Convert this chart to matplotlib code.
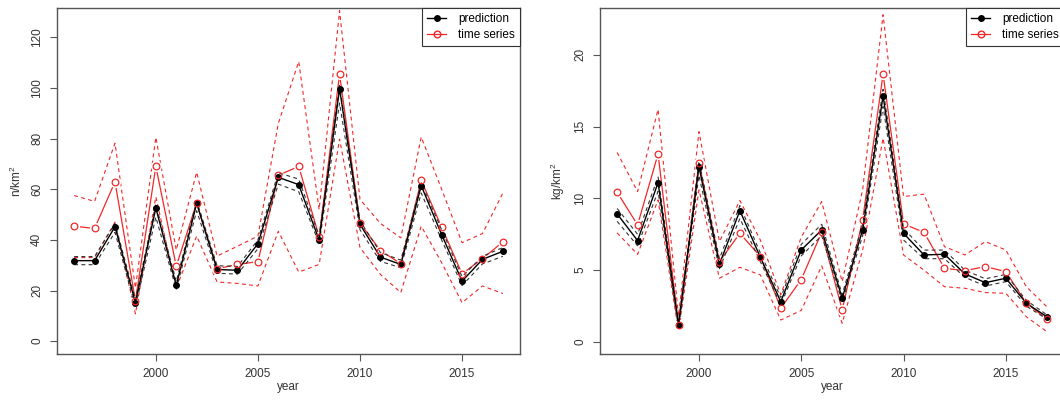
import numpy as np
import matplotlib
matplotlib.use("Agg")
import matplotlib.pyplot as plt
from matplotlib.lines import Line2D

plt.rcParams['font.family'] = ['Liberation Sans', 'DejaVu Sans']
plt.rcParams['mathtext.fontset'] = 'custom'
plt.rcParams['mathtext.rm'] = 'Liberation Sans'

# years
years = list(range(1996, 2018))

# left panel: abundance (n/km2)
pred_n = [31.8, 31.8, 45.2, 15.2, 52.6, 22.0, 54.4, 28.3, 28.0, 38.5, 64.7,
          61.8, 39.9, 99.7, 46.1, 33.2, 30.3, 61.4, 42.1, 23.7, 32.3, 35.5]
pred_n_lo = [30.2, 30.2, 43.0, 13.5, 49.0, 20.5, 51.5, 26.8, 26.5, 36.5, 62.0,
             59.0, 38.5, 94.0, 44.0, 31.5, 29.0, 58.5, 40.0, 22.0, 30.5, 33.5]
pred_n_hi = [33.4, 33.4, 46.5, 16.5, 54.0, 23.5, 55.5, 29.8, 29.5, 40.0, 66.5,
             64.0, 41.5, 101.0, 47.5, 35.0, 32.0, 62.5, 44.0, 25.5, 33.5, 37.0]
ts_n = [45.4, 44.5, 62.9, 16.0, 69.0, 29.6, 54.6, 28.6, 30.3, 31.4, 65.5,
        69.0, 41.2, 105.4, 46.6, 35.8, 30.6, 63.5, 45.0, 26.6, 32.6, 39.2]
ts_n_hi = [57.5, 55.2, 78.2, 21.0, 80.5, 36.0, 66.7, 33.6, 37.5, 41.5, 86.0,
           110.4, 52.0, 130.5, 56.0, 46.5, 40.8, 80.6, 60.0, 38.9, 42.5, 58.5]
ts_n_lo = [33.0, 33.0, 47.0, 10.8, 57.0, 21.0, 41.5, 23.4, 22.8, 21.8, 43.4,
           27.3, 30.3, 79.8, 37.0, 26.4, 19.2, 45.4, 31.0, 15.2, 21.8, 18.8]

# right panel: biomass (kg/km2)
pred_kg = [8.92, 7.06, 11.1, 1.18, 12.2, 5.42, 9.15, 5.9, 2.81, 6.41, 7.8,
           3.04, 7.8, 17.14, 7.57, 6.06, 6.11, 4.74, 4.13, 4.44, 2.7, 1.76]
pred_kg_lo = [8.4, 6.7, 10.5, 1.0, 11.6, 5.1, 8.6, 5.6, 2.6, 6.0, 7.4,
              2.8, 7.4, 16.4, 7.1, 5.8, 5.8, 4.5, 3.9, 4.2, 2.5, 1.6]
pred_kg_hi = [9.3, 7.5, 11.5, 1.4, 12.6, 5.8, 9.5, 6.2, 3.1, 6.8, 8.2,
              3.3, 8.2, 17.6, 7.9, 6.4, 6.4, 5.0, 4.4, 4.7, 2.9, 1.9]
ts_kg = [10.43, 8.15, 13.1, 1.2, 12.5, 5.6, 7.57, 5.95, 2.35, 4.35, 7.65,
         2.23, 8.5, 18.65, 8.22, 7.64, 5.13, 4.97, 5.25, 4.9, 2.7, 1.6]
ts_kg_hi = [13.2, 10.47, 16.2, 1.8, 14.65, 7.0, 9.85, 7.1, 3.3, 7.3, 9.78,
            4.2, 10.6, 22.8, 10.13, 10.3, 6.64, 6.06, 6.99, 6.41, 3.85, 2.46]
ts_kg_lo = [7.6, 6.1, 9.9, 0.72, 10.6, 4.44, 5.2, 4.67, 1.53, 2.2, 5.3,
            1.3, 6.4, 14.2, 6.06, 5.0, 3.85, 3.74, 3.44, 3.39, 1.76, 0.72]

RED = '#f02828'
BOX = '#555555'

fig = plt.figure(figsize=(10.6, 4.03), dpi=100)
ax1 = fig.add_axes([0.0538, 0.1216, 0.4368, 0.8586])
ax2 = fig.add_axes([0.566, 0.1216, 0.4377, 0.8586])


def panel(ax, pred, plo, phi, ts, tlo, thi, ylim, yticks, ylabel):
    dash = (3.5, 3)
    # time series confidence band
    ax.plot(years, thi, color=RED, lw=0.8, dashes=dash, zorder=1.5)
    ax.plot(years, tlo, color=RED, lw=0.8, dashes=dash, zorder=1.5)
    # time series line with gaps round the points
    ax.plot(years, ts, color=RED, lw=0.9, zorder=2)
    ax.plot(years, ts, 'o', color='white', ms=8, mew=0, zorder=2.5)
    # prediction band
    ax.plot(years, plo, color='#333333', lw=0.8, dashes=dash, zorder=3)
    ax.plot(years, phi, color='#333333', lw=0.8, dashes=dash, zorder=3)
    ax.plot(years, pred, color='black', lw=1.0, marker='o', ms=4, zorder=3.5)
    ax.plot(years, ts, 'o', mfc='none', mec=RED, ms=4.8, mew=0.9, zorder=4)

    ax.set_xlim(1995.16, 2017.84)
    ax.set_ylim(*ylim)
    ax.set_xticks([2000, 2005, 2010, 2015])
    ax.set_yticks(yticks)
    for s in ax.spines.values():
        s.set_color(BOX)
        s.set_linewidth(1.0)
    ax.tick_params(length=5, width=0.8, color=BOX, labelsize=8.5,
                   labelcolor='#333333', pad=5)
    for lab in ax.get_yticklabels():
        lab.set_rotation(90)
        lab.set_va('center')
    ax.set_xlabel('year', fontsize=8.5, color='#333333', labelpad=1)
    ax.set_ylabel(ylabel, fontsize=8.5, color='#333333', labelpad=5)

    handles = [
        Line2D([], [], color='black', lw=1.0, marker='o', ms=4),
        Line2D([], [], color=RED, lw=0.9, marker='o', mfc='none', mec=RED, ms=4.8),
    ]
    leg = ax.legend(handles, ['prediction', 'time series'], loc='upper right',
                    borderaxespad=0, fontsize=8.5, handlelength=1.6,
                    handletextpad=1.0, labelspacing=0.3, borderpad=0.45,
                    fancybox=False, framealpha=1)
    leg.get_frame().set_edgecolor('#333333')
    leg.get_frame().set_linewidth(0.8)


panel(ax1, pred_n, pred_n_lo, pred_n_hi, ts_n, ts_n_lo, ts_n_hi,
      (-5.06, 131.56), [0, 20, 40, 60, 80, 100, 120], r'$\mathregular{n/km^2}$')
panel(ax2, pred_kg, pred_kg_lo, pred_kg_hi, ts_kg, ts_kg_lo, ts_kg_hi,
      (-0.84, 23.27), [0, 5, 10, 15, 20], r'$\mathregular{kg/km^2}$')

fig.savefig('out.png', dpi=100)
